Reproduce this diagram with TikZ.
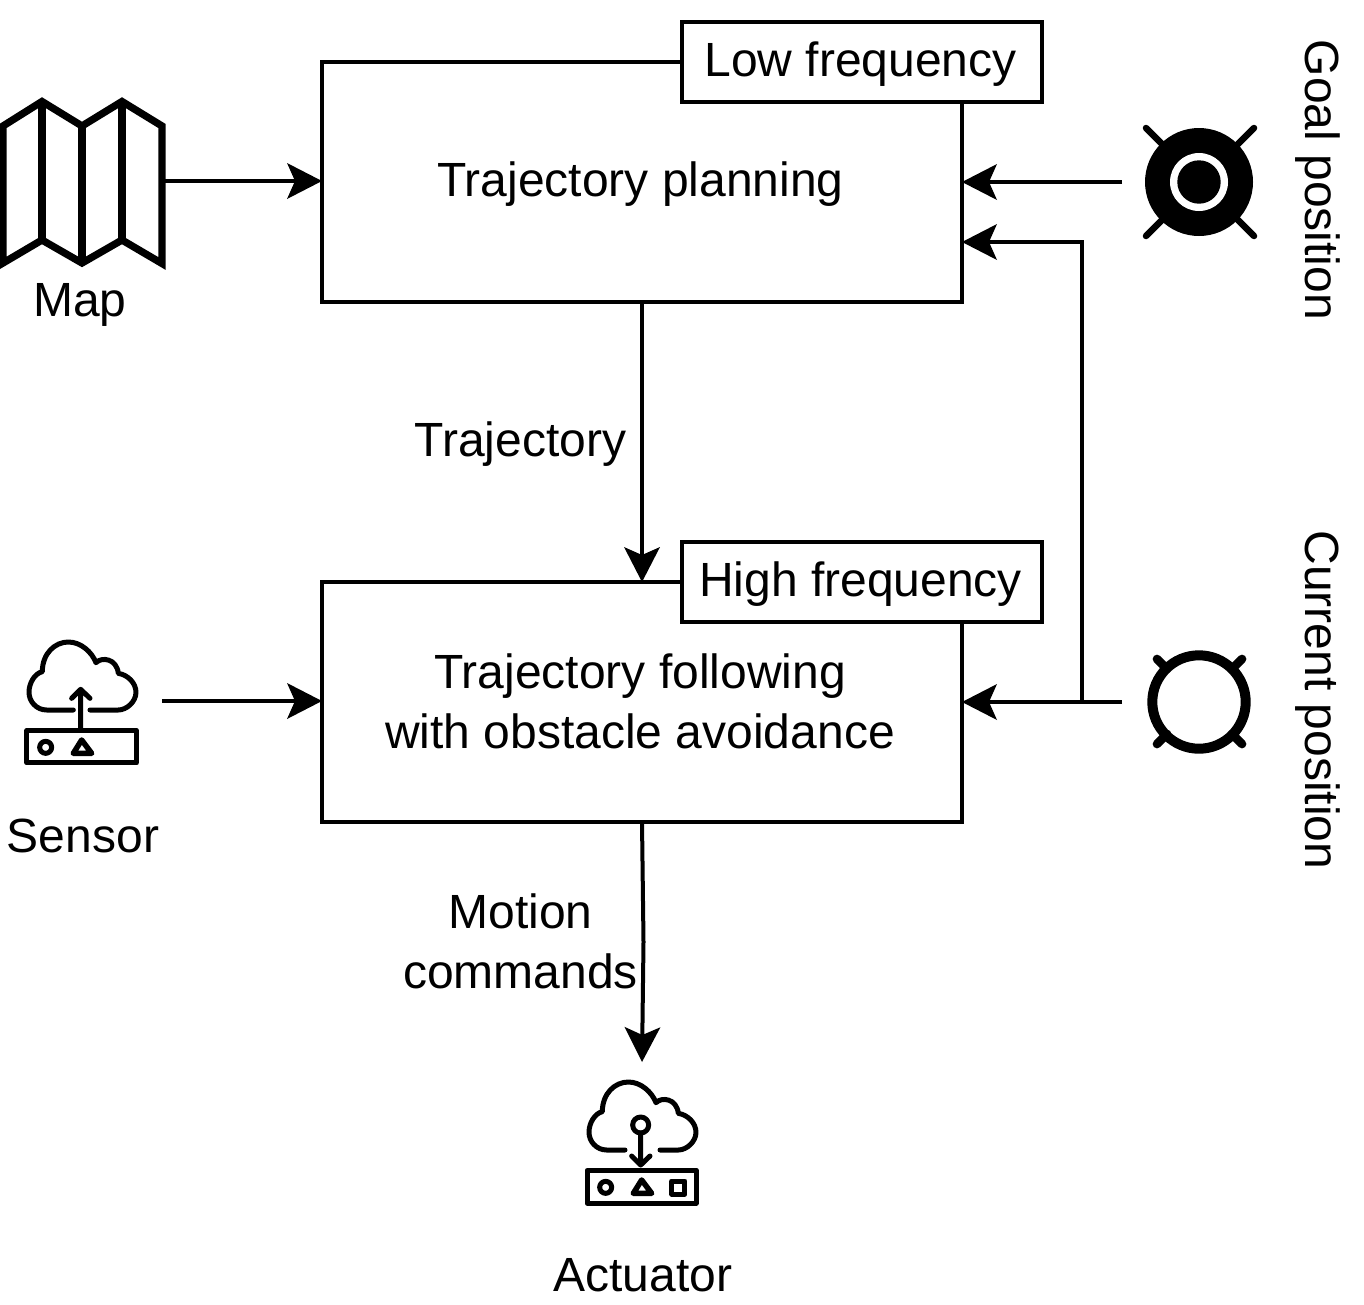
\documentclass[tikz,border=0pt]{standalone}
\usepackage{fontspec}
\setmainfont{Liberation Sans}
\usetikzlibrary{arrows.meta}
\tikzset{
  px/.style={x=1pt,y=-1pt},
  procbox/.style={draw=black,line width=4pt,fill=white,inner sep=0pt,outer sep=0pt},
  txt/.style={inner sep=0pt,align=center,font=\fontsize{48}{60}\selectfont},
  conn/.style={line width=4pt,-{Stealth[length=35pt,width=36pt,inset=8pt,line width=0pt]}},
  iconln/.style={line width=5pt,line cap=round,line join=round},
  mapln/.style={line width=7.3pt,line join=miter},
  whisk/.style={line cap=round}
}
\newcommand{\cloudicon}[2]{%
  \draw[iconln] (#1,240) -- (110,240) .. controls (80,240) and (57,215) .. (57,187) .. controls (57,158) and (75,130) .. (97,125) .. controls (97,70) and (135,36) .. (175,36) .. controls (212,36) and (245,65) .. (258,98) .. controls (275,80) and (320,85) .. (325,130) .. controls (355,135) and (378,160) .. (378,187) .. controls (378,215) and (350,240) .. (325,240) -- (#2,240);
  \draw[iconln] (51,301) rectangle (379,399);
  \draw[iconln] (107,352) circle (18);
}
\begin{document}
\begin{tikzpicture}[px]
\useasboundingbox (0,0) rectangle (1364,1304);

% Process boxes
\node[procbox,minimum width=640pt,minimum height=240pt] (plan) at (642,182) {};
\node[procbox,minimum width=640pt,minimum height=240pt] (follow) at (642,702) {};
\node[procbox,minimum width=360pt,minimum height=80pt] (low) at (862,62) {};
\node[procbox,minimum width=360pt,minimum height=80pt] (high) at (862,582) {};
\node[txt] (lowt) at (860.5,64) {Low frequency};
\node[txt] (hight) at (860.5,584) {High frequency};
\node[txt] (plant) at (640.5,184) {Trajectory planning};
\node[txt] (followt) at (640,701) {Trajectory following\\with obstacle avoidance};

% Map icon
\draw[mapln] (3,126) -- (42,101.5) -- (82,126) -- (122,101.5) -- (162,126) -- (162,263.5) -- (122,240) -- (82,263) -- (42,240) -- (3,263) -- cycle;
\draw[mapln] (42,101.5) -- (42,240) (82,126) -- (82,263) (122,101.5) -- (122,240);
\node[txt] (mapt) at (80,305) {Map};
\coordinate (mapo) at (162,181);

% Goal icon
\draw[whisk,line width=6.5pt] (1146,128) -- (1254,236) (1254,128) -- (1146,236);
\fill[black] (1199,182) circle (54);
\fill[white] (1199,182) circle (29);
\fill[black] (1199,182) circle (21.7);
\coordinate (goalo) at (1122,182);
\node[txt,rotate=-90] (goalt) at (1318,180) {Goal position};

% Current icon
\draw[whisk,line width=8.7pt] (1157,659) -- (1167,669) (1242,659) -- (1232,669) (1157,744) -- (1167,734) (1242,744) -- (1232,734);
\draw[line width=10pt] (1199,702) circle (46.7);
\coordinate (curo) at (1122,702);
\node[txt,rotate=-90] (curt) at (1318,700) {Current position};

% Sensor icon
\begin{scope}[shift={(10,630)},x=0.3333pt,y=-0.3333pt]
\cloudicon{190}{240}
\draw[line width=5.5pt,line join=round] (215,330) -- (190,370) -- (245,370) -- cycle;
\draw[iconln] (212,295) -- (212,180) (185,205) -- (212,178) -- (240,205);
\end{scope}
\coordinate (sensoro) at (162,701);
\node[txt] (sensort) at (83,836) {Sensor};

% Actuator icon
\begin{scope}[shift={(570,1070)},x=0.3333pt,y=-0.3333pt]
\cloudicon{165}{270}
\draw[line width=5.5pt,line join=round] (215,330) -- (190,370) -- (245,370) -- cycle;
\draw[iconln] (305,333) rectangle (345,372);
\draw[iconln] (212,165) circle (24);
\draw[iconln] (212,189) -- (212,282) (185,258) -- (212,285) -- (240,258);
\end{scope}
\coordinate (actin) at (642,1062);
\node[txt] (actt) at (643,1275) {Actuator};

% Connectors
\draw[conn] (mapo) -- (plan.west |- mapo);
\draw[conn] (goalo) -- (plan.east |- goalo);
\draw[conn] (sensoro) -- (follow.west |- sensoro);
\draw[conn] (curo) -- (follow.east |- curo);
\coordinate (junc) at (1082,702);
\coordinate (backin) at (962,242);
\draw[conn] (junc) -- (junc |- backin) -- (backin);
\draw[conn] (plan.south) -- (follow.north);
\draw[conn] (follow.south) -- ++(1.5,120) -- (actin);

% Connector labels
\node[txt] (trajl) at (520.5,444) {Trajectory};
\node[txt] (motl) at (520.5,941) {Motion\\commands};
\end{tikzpicture}
\end{document}
